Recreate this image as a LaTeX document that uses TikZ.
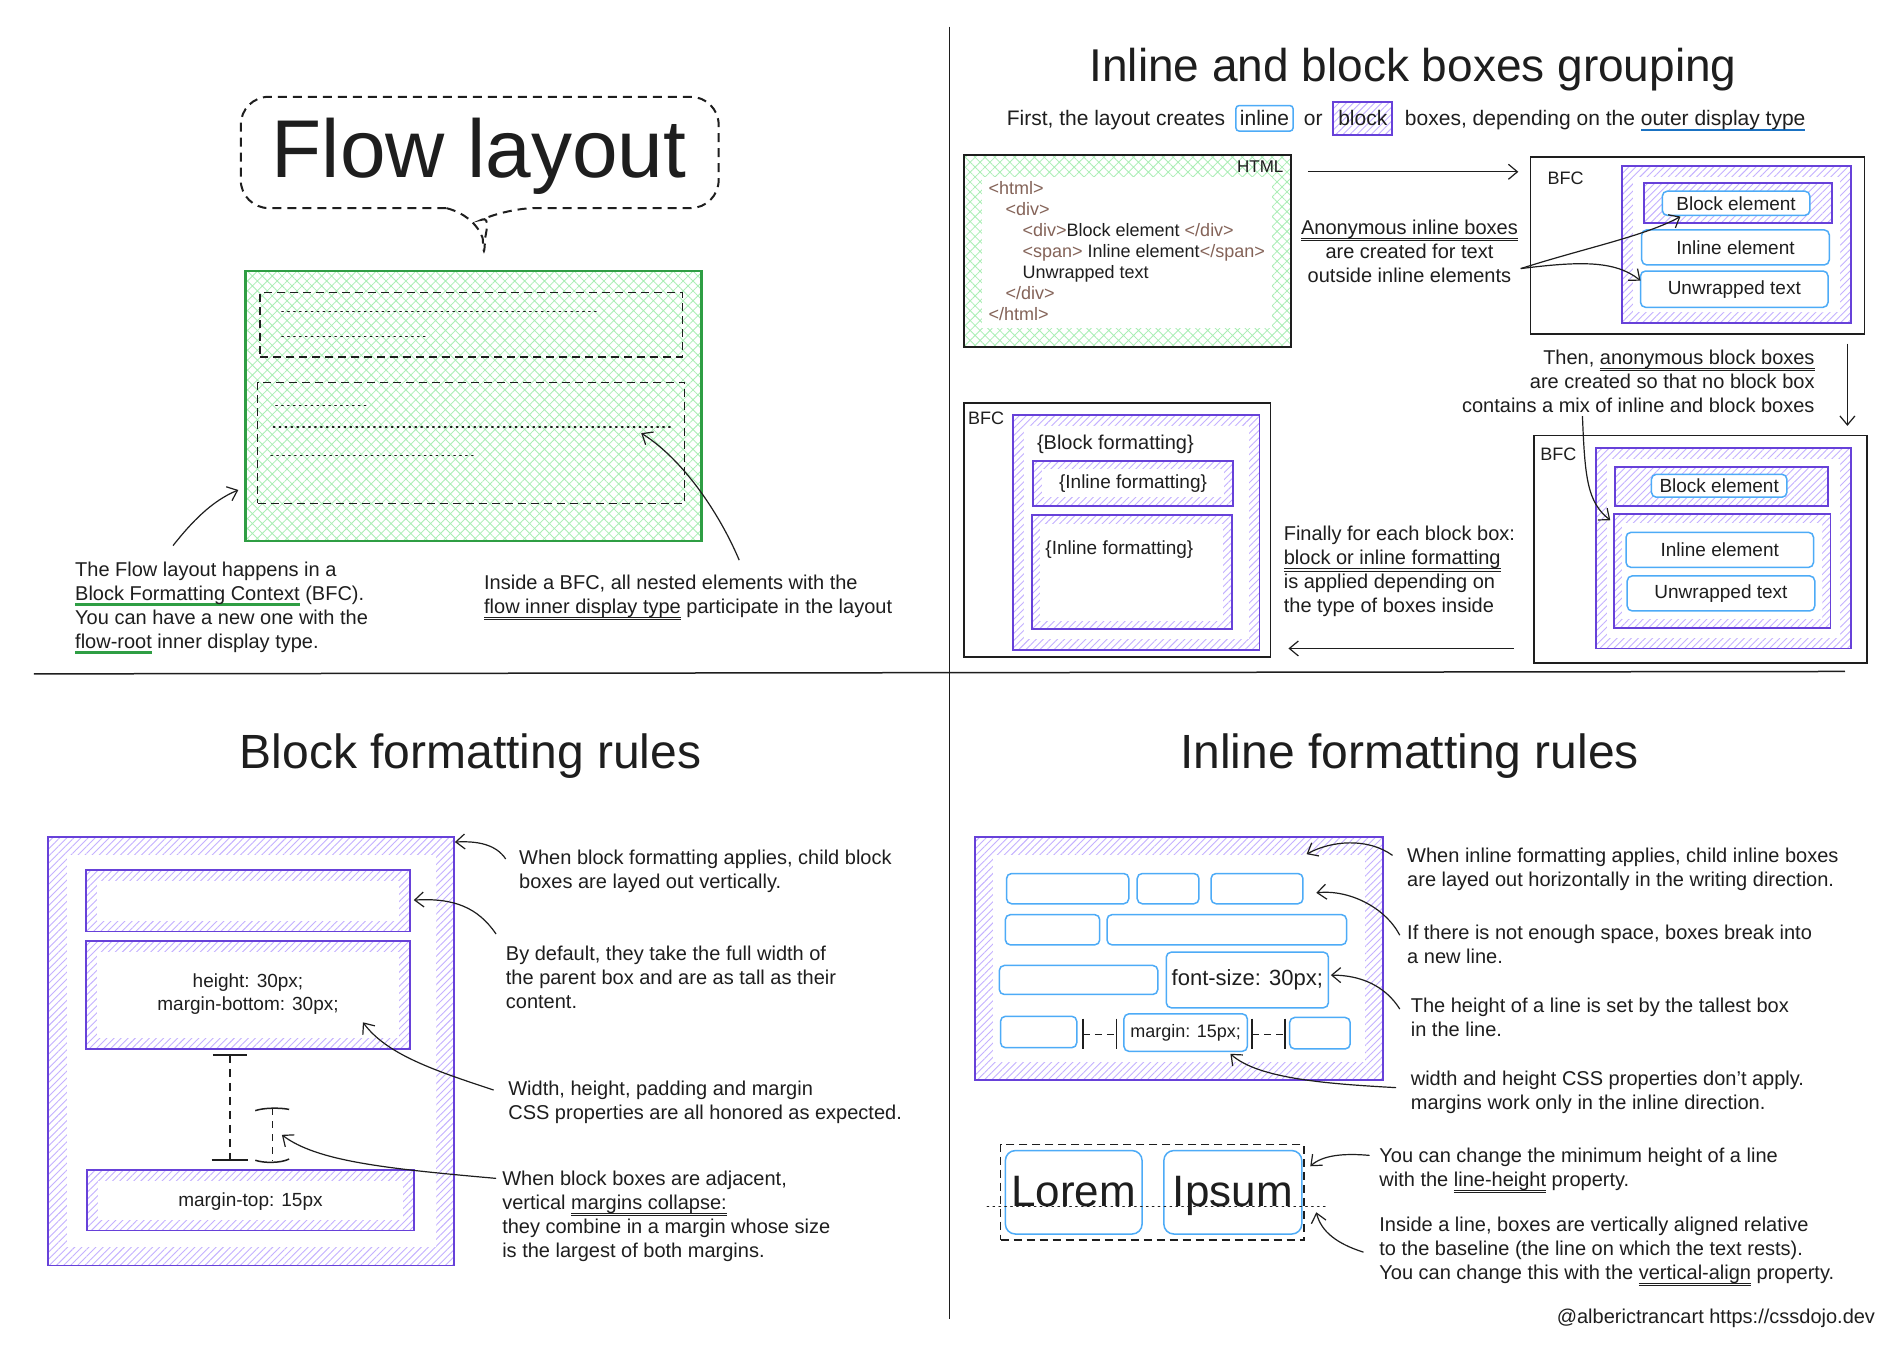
\documentclass[tikz,border=0pt]{standalone}
\usepackage{fontspec}
\setmainfont{Liberation Sans}
\usetikzlibrary{arrows.meta,patterns.meta,fit}
\definecolor{ink}{HTML}{1E1E1E}
\definecolor{grn}{HTML}{2F9E44}
\definecolor{grnh}{HTML}{A9EEB4}
\definecolor{pur}{HTML}{6741D9}
\definecolor{purh}{HTML}{C4B1FF}
\definecolor{bl}{HTML}{4DABF7}
\definecolor{bld}{HTML}{1971C2}
\definecolor{tagc}{HTML}{846358}
\newsavebox\ulbox
\newcommand\cul[2]{{\sbox\ulbox{#2}\rlap{\textcolor{#1}{\rule[-5.5pt]{\wd\ulbox}{2.6pt}}}\usebox\ulbox}}
\newcommand\dul[1]{{\sbox\ulbox{#1}\rlap{\textcolor{ink}{\rule[-4pt]{\wd\ulbox}{0.8pt}}}\rlap{\textcolor{ink}{\rule[-6.4pt]{\wd\ulbox}{0.8pt}}}\usebox\ulbox}}
\newcommand\tg[1]{\textcolor{tagc}{#1}}
\begin{document}
\begin{tikzpicture}[x=1.2098pt,y=-1.2098pt,
 body/.style={font=\fontsize{20}{24}\selectfont, text=ink, inner sep=0pt, align=left, anchor=north west},
 sub/.style={font=\fontsize{20}{24}\selectfont, text=ink, inner sep=0pt},
 lbl/.style={font=\fontsize{18}{21}\selectfont, text=ink, inner sep=0pt, anchor=north west},
 small/.style={font=\fontsize{19}{23}\selectfont, text=ink, inner sep=0pt, align=center},
 boxtxt/.style={font=\fontsize{19}{22}\selectfont, text=ink, inner sep=0pt, anchor=center},
 ttl/.style={font=\fontsize{48}{52}\selectfont, text=ink, inner sep=0pt, anchor=base},
 arr/.style={draw=ink, line width=1.2pt, -{Straight Barb[length=9pt,width=15pt,line width=1.2pt]}},
 frame/.style={draw=ink, line width=1.6pt, inner sep=0pt},
 pbox/.style={draw=pur, line width=1.8pt, inner sep=0pt, pattern={Lines[angle=45,distance=5pt,line width=0.9pt]}, pattern color=purh},
 gbox/.style={inner sep=0pt, pattern={Hatch[angle=45,distance=7pt,line width=0.8pt]}, pattern color=grnh},
 bbox/.style={draw=bl, line width=1.5pt, rounded corners=5pt, fill=white, inner sep=0pt},
 wbox/.style={fill=white, inner sep=0pt},
 dashbox/.style={draw=ink, line width=1.3pt, dash pattern=on 8pt off 5pt, inner sep=0pt},
 dots/.style={draw=ink, line width=1.4pt, dash pattern=on 1.4pt off 4.5pt, line cap=round},
 divider/.style={draw=ink, line width=1.5pt}]
\useasboundingbox (0,0) rectangle (1568,1116);
\fill[white] (0,0) rectangle (1568,1116);

% dividers
\coordinate (vtop) at (785,22); \coordinate (vbot) at (785,1090);
\draw[divider] (vtop) -- (vbot);
\coordinate (hl) at (28,557); \coordinate (hr) at (1525,555);
\draw[divider] (hl) -- (hr);

% ================= Flow layout
\draw[ink, line width=2pt, dash pattern=on 9pt off 6pt, rounded corners=28pt]
  (369,172) -- (199,172) -- (199,80) -- (594,80) -- (594,172) -- (419,172)
  .. controls (406,178) and (401,195) .. (400,221)
  .. controls (399,195) and (392,178) .. (369,172);
\node[inner sep=0pt, font=\fontsize{82}{90}\selectfont, text=ink, anchor=base] (flowtitle) at (396,147) {Flow layout};

\node[gbox, draw=grn, line width=2.6pt, fit={(203,224)(580,447)}] (flowbox) {};
\node[dashbox, fit={(215,242)(564,295)}] (fline1) {};
\node[dashbox, fit={(213,316)(566,416)}] (fline2) {};
\draw[dots] (233,257.5) -- (494,257.5);
\draw[dots] (233,278) -- (353,278);
\draw[dots] (228,335) -- (306,335);
\draw[dots] (226,353) -- (554,353);
\draw[dots] (224,376.5) -- (393,376.5);

\node[body] (tl1) at (62,464) {The Flow layout happens in a\\\cul{grn}{Block Formatting Context} (BFC).\\You can have a new one with the\\\cul{grn}{flow-root} inner display type.};
\node[body] (tl2) at (400,475) {Inside a BFC, all nested elements with the\\\dul{flow inner display type} participate in the layout};
\coordinate (bfcsrc) at (143,451); \coordinate (bfctgt) at (197,405);
\draw[arr] (bfcsrc) .. controls (158,432) and (175,414) .. (bfctgt);
\coordinate (flowsrc) at (611,463); \coordinate (flowtgt) at (530,358);
\draw[arr] (flowsrc) .. controls (595,425) and (565,380) .. (flowtgt);

% ================= Inline and block boxes grouping
\node[ttl, font=\fontsize{46}{50}\selectfont] (grptitle) at (1168,67) {Inline and block boxes grouping};
\node[sub, font=\fontsize{21}{24}\selectfont, anchor=base west] (sub1) at (832,104) {First, the layout creates};
\node[bbox, anchor=base west, inner xsep=4pt, inner ysep=5pt, rounded corners=3pt, font=\fontsize{21}{24}\selectfont, text=ink] (sub2) at ([xshift=10pt]sub1.base east) {inline};
\node[sub, font=\fontsize{21}{24}\selectfont, anchor=base west] (sub3) at ([xshift=10pt]sub2.base east) {or};
\node[pbox, anchor=base west, inner xsep=5pt, inner ysep=9pt, text=ink, font=\fontsize{21}{24}\selectfont] (sub4) at ([xshift=10pt]sub3.base east) {block};
\node[sub, font=\fontsize{21}{24}\selectfont, anchor=base west] (sub5) at ([xshift=12pt]sub4.base east) {boxes, depending on the \cul{bld}{outer display type}};

% HTML box
\node[gbox, draw=ink, line width=1.8pt, fit={(797,128)(1067,287)}] (html) {};
\node[wbox, fit={(812,146)(1051,271)}] (htmlin) {};
\node[lbl, anchor=north east, font=\fontsize{17}{20}\selectfont] (htmllbl) at (1061,133) {HTML};
\node[lbl, align=left, font=\fontsize{18}{21}\selectfont] (code) at (817,150) {\tg{<html>}\\
\hspace*{17pt}\tg{<div>}\\
\hspace*{34pt}\tg{<div>}Block element \tg{</div>}\\
\hspace*{34pt}\tg{<span>} Inline element\tg{</span>}\\
\hspace*{34pt}Unwrapped text\\
\hspace*{17pt}\tg{</div>}\\
\tg{</html>}};
\coordinate (a1s) at (1081,142); \coordinate (a1e) at (1255,142);
\draw[arr] (a1s) -- (a1e);

\node[body, align=center, anchor=north] (anon) at (1165,182) {\dul{Anonymous inline boxes}\\are created for text\\outside inline elements};

% BFC 1
\node[frame, fit={(1265,130)(1541,276)}] (bfc1) {};
\node[lbl] (bfc1l) at (1279,142) {BFC};
\node[pbox, fit={(1341,137)(1530,267)}] (bfc1p) {};
\node[wbox, fit={(1350,146)(1521,258)}] (bfc1w) {};
\node[pbox, fit={(1359,151)(1514,184)}] (bfc1a) {};
\node[bbox, fit={(1374,158)(1496,178)}] (bfc1b) {};
\node[boxtxt] (bfc1bt) at (bfc1b.center) {Block element};
\node[bbox, fit={(1357,190)(1512,219)}] (bfc1i) {};
\node[boxtxt] (bfc1it) at (bfc1i.center) {Inline element};
\node[bbox, fit={(1356,224)(1511,254)}] (bfc1u) {};
\node[boxtxt] (bfc1ut) at (bfc1u.center) {Unwrapped text};
\coordinate (anonsrc) at (1257,222);
\coordinate (anont1) at (1389,179);
\coordinate (anont2) at (1356,232);
\draw[arr] (anonsrc) .. controls (1310,205) and (1360,195) .. (anont1);
\draw[arr] (anonsrc) .. controls (1305,216) and (1335,215) .. (anont2);

\coordinate (d1s) at (1527,284); \coordinate (d1e) at (1527,352);
\draw[arr] (d1s) -- (d1e);
\node[body, align=right, anchor=north east] (then) at (1500,289) {Then, \dul{anonymous block boxes}\\are created so that no block box\\contains a mix of inline and block boxes};

% BFC 2
\node[frame, fit={(1268,360)(1543,548)}] (bfc2) {};
\node[lbl] (bfc2l) at (1273,370) {BFC};
\node[pbox, fit={(1319,370)(1530,536)}] (bfc2p) {};
\node[wbox, fit={(1328,379)(1521,527)}] (bfc2w) {};
\node[pbox, fit={(1335,386)(1511,418)}] (bfc2a) {};
\node[bbox, fit={(1365,392)(1477,411)}] (bfc2b) {};
\node[boxtxt] (bfc2bt) at (bfc2b.center) {Block element};
\node[pbox, fit={(1334,425)(1513,519)}] (bfc2c) {};
\node[wbox, fit={(1341,432)(1506,512)}] (bfc2cw) {};
\node[bbox, fit={(1344,440)(1499,469)}] (bfc2i) {};
\node[boxtxt] (bfc2it) at (bfc2i.center) {Inline element};
\node[bbox, fit={(1345,476)(1500,505)}] (bfc2u) {};
\node[boxtxt] (bfc2ut) at (bfc2u.center) {Unwrapped text};
\coordinate (m1s) at (1308,344); \coordinate (m1e) at (1331,430);
\draw[arr] (m1s) .. controls (1310,395) and (1312,415) .. (m1e);

\coordinate (b1s) at (1251,536); \coordinate (b1e) at (1065,536);
\draw[arr] (b1s) -- (b1e);
\node[body] (finally) at (1061,435) {Finally for each block box:\\\dul{block or inline formatting}\\is applied depending on\\the type of boxes inside};

% BFC 3
\node[frame, fit={(797,333)(1050,543)}] (bfc3) {};
\node[lbl] (bfc3l) at (800,340) {BFC};
\node[pbox, fit={(837,343)(1041,537)}] (bfc3p) {};
\node[wbox, fit={(846,352)(1032,528)}] (bfc3w) {};
\node[sub, anchor=west] (bfc3t) at (857,367) {\{Block formatting\}};
\node[pbox, fit={(854,381)(1019,418)}] (bfc3a) {};
\node[wbox, fit={(861,388)(1012,411)}] (bfc3aw) {};
\node[boxtxt] (bfc3at) at (bfc3a.center) {\{Inline formatting\}};
\node[pbox, fit={(853,426)(1018,520)}] (bfc3b) {};
\node[wbox, fit={(860,433)(1011,513)}] (bfc3bw) {};
\node[boxtxt, anchor=west] (bfc3bt) at (864,454) {\{Inline formatting\}};

% ================= Block formatting rules
\node[ttl] (blktitle) at (389,635) {Block formatting rules};
\node[pbox, fit={(40,692)(375,1046)}] (blk) {};
\node[wbox, fit={(55,707)(360,1031)}] (blkw) {};
\node[pbox, fit={(71,719)(339,770)}] (blkA) {};
\node[wbox, fit={(80,728)(330,761)}] (blkAw) {};
\node[pbox, fit={(71,778)(339,867)}] (blkB) {};
\node[wbox, fit={(80,787)(330,858)}] (blkBw) {};
\node[small] (blkBt) at (205,822) {height: 30px;\\margin-bottom: 30px;};
\node[pbox, fit={(72,967)(342,1017)}] (blkC) {};
\node[wbox, fit={(81,976)(333,1008)}] (blkCw) {};
\node[small] (blkCt) at (207,993) {margin-top: 15px};

\coordinate (mg1t) at (190,872); \coordinate (mg1b) at (190,959);
\draw[ink, line width=1.3pt, dash pattern=on 8pt off 6pt] (mg1t) -- (mg1b);
\draw[ink, line width=1.5pt] (176,872) -- (204,872) (175,959) -- (205,959);
\coordinate (mg2t) at (225,916); \coordinate (mg2b) at (225,960);
\draw[ink, line width=1.3pt, dash pattern=on 7pt off 6pt] (mg2t) -- (mg2b);
\draw[ink, line width=1.5pt] (211,918) .. controls (218,915.5) and (232,915.5) .. (239,917);
\draw[ink, line width=1.5pt] (211,959) .. controls (218,961.5) and (232,961.5) .. (239,958);

\node[body] (bl1) at (429,702) {When block formatting applies, child block\\boxes are layed out vertically.};
\node[body] (bl2) at (418,782) {By default, they take the full width of\\the parent box and are as tall as their\\content.};
\node[body] (bl3) at (420,893) {Width, height, padding and margin\\CSS properties are all honored as expected.};
\node[body] (bl4) at (415,968) {When block boxes are adjacent,\\vertical \dul{margins collapse:}\\they combine in a margin whose size\\is the largest of both margins.};

\coordinate (bla1s) at (418,710); \coordinate (bla1e) at (376,696);
\draw[arr] (bla1s) .. controls (410,698) and (395,695) .. (bla1e);
\coordinate (bla2s) at (410,772); \coordinate (bla2e) at (342,744);
\draw[arr] (bla2s) .. controls (395,750) and (375,742) .. (bla2e);
\coordinate (bla3s) at (408,901); \coordinate (bla3e) at (300,845);
\draw[arr] (bla3s) .. controls (360,885) and (320,872) .. (bla3e);
\coordinate (bla4s) at (410,974); \coordinate (bla4e) at (233,938);
\draw[arr] (bla4s) .. controls (320,966) and (262,960) .. (bla4e);

% ================= Inline formatting rules
\node[ttl] (inltitle) at (1165,635) {Inline formatting rules};
\node[pbox, fit={(806,692)(1143,893)}] (inl) {};
\node[wbox, fit={(821,707)(1128,878)}] (inlw) {};
\node[bbox, fit={(832,722)(933,747)}] (r1a) {};
\node[bbox, fit={(940,722)(991,747)}] (r1b) {};
\node[bbox, fit={(1001,722)(1077,747)}] (r1c) {};
\node[bbox, fit={(831,756)(909,781)}] (r2a) {};
\node[bbox, fit={(915,756)(1113,781)}] (r2b) {};
\node[bbox, fit={(826,798)(957,822)}] (r3a) {};
\node[bbox, fit={(964,787)(1098,833)}] (r3b) {};
\node[boxtxt, font=\fontsize{22}{24}\selectfont] (r3bt) at (r3b.center) {font-size: 30px;};
\node[bbox, fit={(827,840)(890,866)}] (r4a) {};
\node[bbox, fit={(929,838)(1031,869)}] (r4b) {};
\node[boxtxt, font=\fontsize{18}{20}\selectfont] (r4bt) at (r4b.center) {margin: 15px;};
\node[bbox, fit={(1066,841)(1116,867)}] (r4c) {};
\draw[ink, line width=1.5pt] (895,842) -- (895,867) (923,842) -- (923,867) (1035,842) -- (1035,867) (1062,842) -- (1062,867);
\draw[ink, line width=1.3pt, dash pattern=on 7pt off 5pt] (895,855) -- (923,855) (1035,855) -- (1062,855);

\node[body] (br1) at (1163,701) {When inline formatting applies, child inline boxes\\are layed out horizontally in the writing direction.};
\node[body] (br2) at (1163,764) {If there is not enough space, boxes break into\\a new line.};
\node[body] (br3) at (1166,825) {The height of a line is set by the tallest box\\in the line.};
\node[body] (br4) at (1166,885) {width and height CSS properties don't apply.\\margins work only in the inline direction.};

\coordinate (bra1s) at (1151,707); \coordinate (bra1e) at (1080,706);
\draw[arr] (bra1s) .. controls (1130,692) and (1100,695) .. (bra1e);
\coordinate (bra2s) at (1157,773); \coordinate (bra2e) at (1088,738);
\draw[arr] (bra2s) .. controls (1145,750) and (1115,735) .. (bra2e);
\coordinate (bra3s) at (1157,834); \coordinate (bra3e) at (1100,806);
\draw[arr] (bra3s) .. controls (1145,815) and (1125,806) .. (bra3e);
\coordinate (bra4s) at (1154,899); \coordinate (bra4e) at (1017,871);
\draw[arr] (bra4s) .. controls (1100,896) and (1040,892) .. (bra4e);

% Lorem Ipsum
\node[dashbox, line width=1.5pt, fit={(827,946)(1078,1025)}] (lorembox) {};
\node[bbox, rounded corners=10pt, fit={(831,951)(944,1020)}] (lorem) {};
\node[bbox, rounded corners=10pt, fit={(962,951)(1076,1020)}] (ipsum) {};
\node[inner sep=0pt, anchor=base, font=\fontsize{44}{48}\selectfont, text=ink] (loremt) at (887.5,997) {Lorem};
\node[inner sep=0pt, anchor=base, font=\fontsize{44}{48}\selectfont, text=ink] (ipsumt) at (1019,997) {Ipsum};
\coordinate (basel) at (816,997); \coordinate (baser) at (1098,997);
\draw[dots] (basel) -- (baser);

\node[body] (br5) at (1140,949) {You can change the minimum height of a line\\with the \dul{line-height} property.};
\node[body] (br6) at (1140,1006) {Inside a line, boxes are vertically aligned relative\\to the baseline (the line on which the text rests).\\You can change this with the \dul{vertical-align} property.};
\coordinate (bra5s) at (1132,955); \coordinate (bra5e) at (1083,964);
\draw[arr] (bra5s) .. controls (1110,953) and (1093,955) .. (bra5e);
\coordinate (bra6s) at (1127,1035); \coordinate (bra6e) at (1088,1002);
\draw[arr] (bra6s) .. controls (1105,1028) and (1092,1018) .. (bra6e);

% footer
\node[sub, anchor=base east] (footer) at (1550,1094) {@alberictrancart https://cssdojo.dev};
\end{tikzpicture}
\end{document}
